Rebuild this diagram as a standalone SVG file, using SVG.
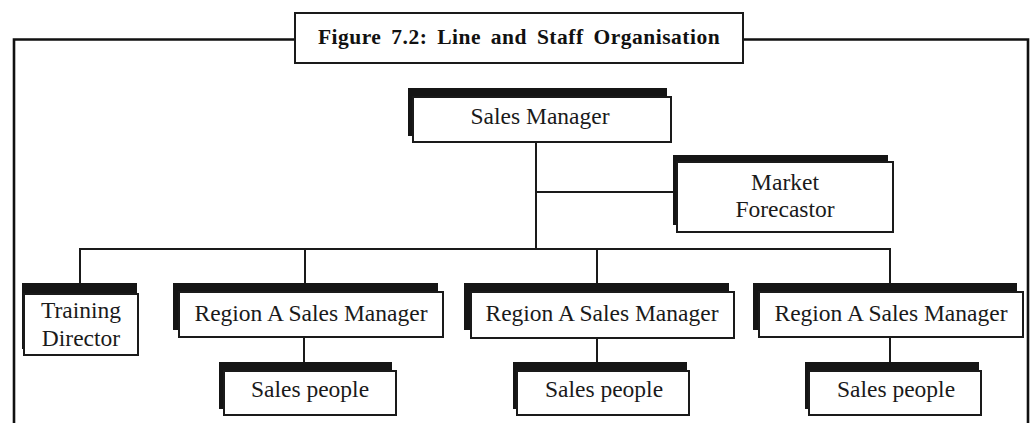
<svg xmlns="http://www.w3.org/2000/svg" width="1032" height="423" viewBox="0 0 1032 423">
<style>
.bg{fill:#ffffff}
.frame{fill:none;stroke:#111;stroke-width:2.6}
.conn{fill:none;stroke:#1a1a1a;stroke-width:2}
.shadow{fill:#151515}
.box{fill:#ffffff;stroke:#1a1a1a;stroke-width:2}
.t{font-family:"Liberation Serif","Times New Roman",serif;font-size:23.5px;fill:#1a1a1a;text-anchor:middle}
.title{font-family:"Liberation Serif","Times New Roman",serif;font-size:21.5px;font-weight:bold;fill:#111;text-anchor:middle;letter-spacing:0.5px;word-spacing:4px}
</style>
<rect class="bg" x="0" y="0" width="1032" height="423"/>
<path class="frame" d="M14,423 V39.5 H1028 V423"/>
<g id="title">
<rect class="box" x="295" y="13" width="448" height="50" stroke-width="2.6"/>
<text class="title" x="519" y="44">Figure 7.2: Line and Staff Organisation</text>
</g>
<g id="connectors">
<path class="conn" d="M536,142 V249"/>
<path class="conn" d="M536,192 H677"/>
<path class="conn" d="M80,283 V249 H890 V283"/>
<path class="conn" d="M305,249 V283"/>
<path class="conn" d="M597,249 V283"/>
<path class="conn" d="M304,337 V362"/>
<path class="conn" d="M597,338 V362"/>
<path class="conn" d="M890,337 V362"/>
</g>
<g id="sales-manager">
<rect class="shadow" x="408" y="88" width="259" height="48"/>
<rect class="box" x="413" y="97" width="258" height="45"/>
<text class="t" x="540" y="124">Sales Manager</text>
</g>
<g id="market-forecastor">
<rect class="shadow" x="673" y="155" width="215" height="70"/>
<rect class="box" x="677" y="162" width="216" height="70"/>
<text class="t" x="785" y="190">Market</text>
<text class="t" x="785" y="217">Forecastor</text>
</g>
<g id="training-director">
<rect class="shadow" x="22" y="283" width="115" height="66"/>
<rect class="box" x="24" y="294" width="114" height="61"/>
<text class="t" x="81" y="318">Training</text>
<text class="t" x="81" y="346">Director</text>
</g>
<g id="region-1">
<rect class="shadow" x="173" y="283" width="265" height="47"/>
<rect class="box" x="179" y="292" width="264" height="45"/>
<text class="t" x="311" y="321">Region A Sales Manager</text>
</g>
<g id="region-2">
<rect class="shadow" x="464" y="283" width="265" height="47"/>
<rect class="box" x="471" y="292" width="263" height="46"/>
<text class="t" x="602" y="321">Region A Sales Manager</text>
</g>
<g id="region-3">
<rect class="shadow" x="753" y="283" width="264" height="47"/>
<rect class="box" x="759" y="292" width="264" height="45"/>
<text class="t" x="891" y="321">Region A Sales Manager</text>
</g>
<g id="sales-people-1">
<rect class="shadow" x="219" y="362" width="173" height="47"/>
<rect class="box" x="224" y="371" width="172" height="44"/>
<text class="t" x="310" y="397">Sales people</text>
</g>
<g id="sales-people-2">
<rect class="shadow" x="513" y="362" width="174" height="47"/>
<rect class="box" x="517" y="371" width="172" height="44"/>
<text class="t" x="604" y="397">Sales people</text>
</g>
<g id="sales-people-3">
<rect class="shadow" x="805" y="362" width="174" height="47"/>
<rect class="box" x="809" y="371" width="172" height="44"/>
<text class="t" x="896" y="397">Sales people</text>
</g>
</svg>
